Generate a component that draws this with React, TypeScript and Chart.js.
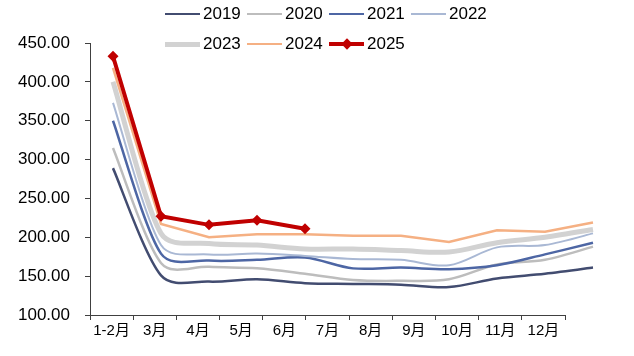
import React, { useEffect, useRef } from 'react';
import { Chart, registerables } from 'chart.js';

Chart.register(...registerables);

const categories = ['1-2月', '3月', '4月', '5月', '6月', '7月', '8月', '9月', '10月', '11月', '12月'];
const seriesNames = ['2019', '2020', '2021', '2022', '2023', '2024', '2025'];
const s2019 = [289, 151, 143, 146, 141, 140, 139, 136, 147, 153, 161];
const s2020 = [315, 167, 162, 160, 153, 145, 144, 146, 165, 171, 188];
const s2021 = [350, 179, 170, 171, 174, 160, 161, 159, 164, 178, 193];
const s2022 = [373, 190, 178, 179, 176, 172, 171, 164, 187, 190, 205];
const s2023 = [400, 205, 192, 190, 185, 185, 183, 181, 193, 200, 210];
const s2024 = [418, 217, 200, 204, 204, 202, 202, 194, 209, 207, 219];
const s2025 = [433, 227, 216, 222, 211];
const yTicks = [100, 150, 200, 250, 300, 350, 400, 450];

const colors = ['#424c70', '#bdbdbd', '#4d66a4', '#a9b8d4', '#d2d2d2', '#f5b083', '#c00000'];
const widths = [2.5, 2.5, 2.5, 2, 5, 2.5, 4];
const smooth = [true, true, true, true, true, false, false];
const FONT = '"Liberation Sans", Arial, "Noto Sans CJK SC", sans-serif';
const axisColor = '#404040';

// Excel-like smoothing: Catmull-Rom handles, capped relative to the adjacent segment length
const excelSmooth = {
  id: 'excelSmooth',
  beforeDatasetsDraw(chart: any) {
    chart.data.datasets.forEach((ds: any, di: number) => {
      if (!ds._smooth) return;
      const meta = chart.getDatasetMeta(di);
      const line = meta.dataset;
      const pts = meta.data;
      if (!line || !pts || !pts.length) return;
      line.updateControlPoints(chart.chartArea, 'x');
      const n = pts.length;
      const k = 0.35;
      for (let i = 0; i < n; i++) {
        const p = pts[i];
        const prev = pts[Math.max(0, i - 1)];
        const next = pts[Math.min(n - 1, i + 1)];
        const hx = (next.x - prev.x) / 6;
        const hy = (next.y - prev.y) / 6;
        const hl = Math.hypot(hx, hy) || 1;
        const dPrev = Math.hypot(p.x - prev.x, p.y - prev.y);
        const dNext = Math.hypot(next.x - p.x, next.y - p.y);
        const fIn = Math.min(1, (k * dPrev) / hl);
        const fOut = Math.min(1, (k * dNext) / hl);
        p.cp1x = p.x - hx * fIn;
        p.cp1y = p.y - hy * fIn;
        p.cp2x = p.x + hx * fOut;
        p.cp2y = p.y + hy * fOut;
      }
    });
  },
};

export default function App() {
  const ref = useRef<HTMLCanvasElement>(null);
  useEffect(() => {
    const series = [s2019, s2020, s2021, s2022, s2023, s2024, s2025];
    const chart = new Chart(ref.current as HTMLCanvasElement, {
      type: 'line',
      plugins: [excelSmooth],
      data: {
        labels: categories,
        datasets: series.map((vals, i) => ({
          label: seriesNames[i],
          _smooth: smooth[i],
          data: vals.map((v, j) => ({ x: j, y: v })),
          xAxisID: 'xd',
          yAxisID: 'y',
          borderColor: colors[i],
          backgroundColor: colors[i],
          borderWidth: widths[i],
          tension: smooth[i] ? 0.3 : 0,
          pointRadius: i === 6 ? 5.5 : 0,
          pointStyle: 'rectRot',
          pointBorderWidth: 0,
          clip: false,
          order: 10 - i,
          fill: false,
        })) as any,
      },
      options: {
        responsive: false,
        animation: false,
        layout: { padding: { top: 43, right: 69, left: 0, bottom: 0 } },
        plugins: { legend: { display: false }, tooltip: { enabled: false } },
        elements: { line: { capBezierPoints: false } as any },
        scales: {
          x: {
            type: 'category',
            position: 'bottom',
            offset: true,
            grid: { display: true, drawOnChartArea: false, offset: true, tickLength: 5, color: axisColor },
            border: { color: axisColor, width: 1 },
            ticks: { color: '#000', font: { family: FONT, size: 15 }, padding: 2, maxRotation: 0, autoSkip: false },
            afterFit: (s: any) => { s.height = 41; },
          },
          xd: { type: 'linear', display: false, min: -0.479, max: 9.417 },
          y: {
            min: 100,
            max: 450,
            afterBuildTicks: (s: any) => { s.ticks = yTicks.map((v) => ({ value: v })); },
            ticks: {
              color: '#000',
              font: { family: FONT, size: 17 },
              padding: 15,
              callback: (v: any) => Number(v).toFixed(2),
            },
            grid: { display: true, drawOnChartArea: false, tickLength: 5, color: axisColor },
            border: { color: axisColor, width: 1 },
            afterFit: (s: any) => { s.width = 90; },
          },
        } as any,
      },
    });
    return () => chart.destroy();
  }, []);

  return (
    <div style={{ position: 'absolute', left: 0, top: 0, width: 634, height: 356, background: '#fff' }}>
      <canvas ref={ref} width={634} height={356} style={{ display: 'block' }} />
      {seriesNames.map((name, i) => {
        const col = i % 4;
        const row = Math.floor(i / 4);
        return (
          <div
            key={name}
            style={{
              position: 'absolute',
              left: 165 + col * 82,
              top: row === 0 ? 4 : 34,
              height: 20,
              display: 'flex',
              alignItems: 'center',
              fontFamily: FONT,
              fontSize: 17,
              color: '#000',
              whiteSpace: 'nowrap',
            }}
          >
            <div style={{ position: 'relative', width: 35, height: 12, marginRight: 3 }}>
              <div
                style={{
                  position: 'absolute',
                  left: 0,
                  top: 6 - widths[i] / 2,
                  width: 35,
                  height: widths[i],
                  background: colors[i],
                }}
              />
              {i === 6 && (
                <div
                  style={{
                    position: 'absolute',
                    left: 17.5 - 4,
                    top: 6 - 4,
                    width: 8,
                    height: 8,
                    background: colors[i],
                    transform: 'rotate(45deg)',
                  }}
                />
              )}
            </div>
            <span>{name}</span>
          </div>
        );
      })}
    </div>
  );
}
